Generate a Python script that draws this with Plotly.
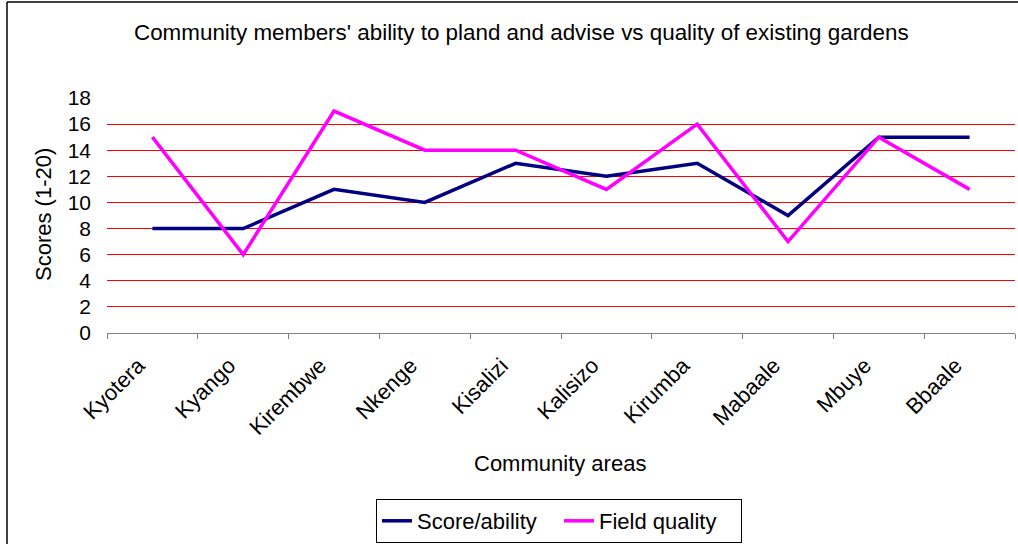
import plotly.graph_objects as go

areas = ["Kyotera", "Kyango", "Kirembwe", "Nkenge", "Kisalizi", "Kalisizo",
         "Kirumba", "Mabaale", "Mbuye", "Bbaale"]
score_ability = [8, 8, 11, 10, 13, 12, 13, 9, 15, 15]
field_quality = [15, 6, 17, 14, 14, 11, 16, 7, 15, 11]
y_ticks = [0, 2, 4, 6, 8, 10, 12, 14, 16, 18]

W, H = 1018, 544
L, R, T, B = 107, 1015, 98, 333

def px(x):
    return (x - L) / (R - L)

def py(y):
    return (B - y) / (B - T)

FONT = "Liberation Sans, Arial, sans-serif"

fig = go.Figure()
fig.add_trace(go.Scatter(x=areas, y=score_ability, mode="lines", name="Score/ability",
                         line=dict(color="#000080", width=3.5)))
fig.add_trace(go.Scatter(x=areas, y=field_quality, mode="lines", name="Field quality",
                         line=dict(color="#FF00FF", width=3.5)))

fig.update_layout(
    width=W, height=H,
    margin=dict(l=L, r=W - R, t=T, b=H - B, autoexpand=False),
    paper_bgcolor="white", plot_bgcolor="white",
    font=dict(family=FONT, color="black", size=22),
    showlegend=True,
    legend=dict(orientation="h", x=px(559), y=py(499), xanchor="center", yanchor="top",
                bordercolor="black", borderwidth=1, font=dict(size=22),
                entrywidth=137, entrywidthmode="pixels", tracegroupgap=0),
    xaxis=dict(type="category", range=[-0.5, 9.5], showgrid=False,
               showline=True, linecolor="#808080", linewidth=1,
               ticks="outside", tickson="boundaries", ticklen=5, tickcolor="#808080",
               tickangle=-45, tickfont=dict(size=22), ticklabelstandoff=10,
               ticklabelshift=-14),
    yaxis=dict(range=[0, 18], tickvals=y_ticks, showgrid=True, gridcolor="#FF0000",
               gridwidth=1, zeroline=False, showline=False, ticks="",
               tickfont=dict(size=21), ticklabelstandoff=15),
    annotations=[
        dict(text="Community members' ability to pland and advise vs quality of existing gardens",
             x=px(521), y=py(33), xref="paper", yref="paper", showarrow=False,
             xanchor="center", yanchor="middle", font=dict(size=22.4)),
        dict(text="Scores (1-20)", x=px(43), y=py(215), xref="paper", yref="paper",
             showarrow=False, textangle=-90, xanchor="center", yanchor="middle",
             font=dict(size=22)),
        dict(text="Community areas", x=px(560), y=py(463), xref="paper", yref="paper",
             showarrow=False, xanchor="center", yanchor="middle", font=dict(size=22)),
    ],
    shapes=[
        dict(type="line", xref="paper", yref="paper", x0=px(7), x1=px(7), y0=py(2), y1=py(560),
             line=dict(color="black", width=1.5)),
        dict(type="line", xref="paper", yref="paper", x0=px(7), x1=px(1030), y0=py(2), y1=py(2),
             line=dict(color="black", width=1.5)),
    ],
)

fig.write_html("out.html")
